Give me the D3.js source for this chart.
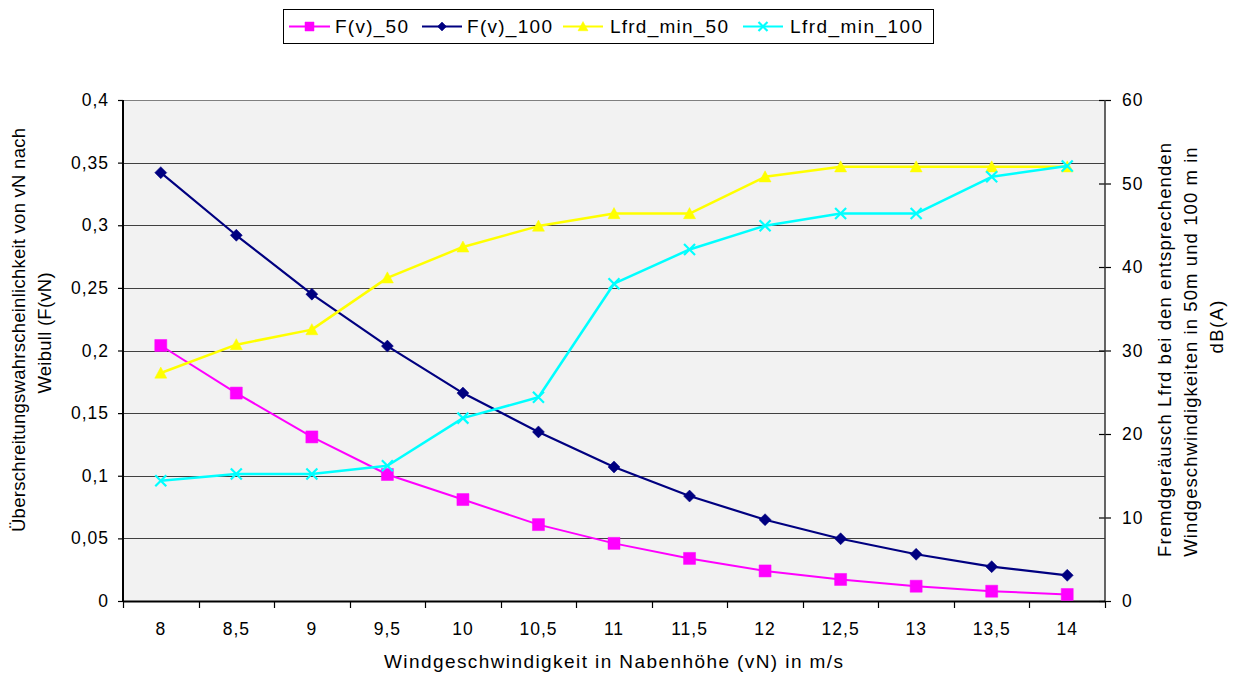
<!DOCTYPE html>
<html>
<head>
<meta charset="utf-8">
<script src="https://cdn.jsdelivr.net/npm/d3@7"></script>
<style>
  html, body { margin: 0; padding: 0; background: #fff; }
  svg { display: block; font-family: "Liberation Sans", Arial, sans-serif; }
</style>
</head>
<body>
<svg id="chart" width="1240" height="675"></svg>
<script>
// Wind speed at hub height (m/s)
const categories = ["8", "8,5", "9", "9,5", "10", "10,5", "11", "11,5", "12", "12,5", "13", "13,5", "14"];

// Weibull exceedance probability (left axis)
const fv50  = [0.204, 0.166, 0.131, 0.101, 0.081, 0.061, 0.046, 0.034, 0.024, 0.0172, 0.0118, 0.0078, 0.0052];
const fv100 = [0.342, 0.292, 0.245, 0.2035, 0.166, 0.135, 0.107, 0.0838, 0.0649, 0.0497, 0.0373, 0.0274, 0.0205];

// Background noise Lfrd in dB(A) (right axis)
const lfrd50  = [27.3, 30.7, 32.5, 38.7, 42.4, 44.9, 46.4, 46.4, 50.8, 52, 52, 52, 52];
const lfrd100 = [14.4, 15.2, 15.2, 16.2, 21.9, 24.4, 38, 42.1, 44.95, 46.4, 46.4, 50.8, 52.1];

const leftTicks  = [0, 0.05, 0.1, 0.15, 0.2, 0.25, 0.3, 0.35, 0.4];
const rightTicks = [0, 10, 20, 30, 40, 50, 60];

const seriesNames = ["F(v)_50", "F(v)_100", "Lfrd_min_50", "Lfrd_min_100"];

const svg = d3.select("#chart");
const M = { left: 123, right: 1105, top: 100, bottom: 601 };
const TICK_FONT = 17.5, TICK_SPACING = "1px";

const x = d3.scaleBand().domain(categories).range([M.left, M.right]).paddingInner(0).paddingOuter(0);
const yL = d3.scaleLinear().domain([0, 0.4]).range([M.bottom, M.top]);
const yR = d3.scaleLinear().domain([0, 60]).range([M.bottom, M.top]);
const cx = c => x(c) + x.bandwidth() / 2;

const deFmt = d3.formatLocale({ decimal: ",", thousands: ".", grouping: [3], currency: ["", " €"] }).format("~g");

// custom marker shapes
const xMark = {
  draw(ctx, size) {
    const r = Math.sqrt(size) / 2;
    ctx.moveTo(-r, -r); ctx.lineTo(r, r);
    ctx.moveTo(-r, r); ctx.lineTo(r, -r);
  }
};
const diamondMark = {
  draw(ctx, size) {
    const r = Math.sqrt(size) / 2;
    ctx.moveTo(0, -r); ctx.lineTo(r, 0); ctx.lineTo(0, r); ctx.lineTo(-r, 0); ctx.closePath();
  }
};
const triMark = {
  draw(ctx, size) {
    const r = Math.sqrt(size) / 2;
    ctx.moveTo(0, -r); ctx.lineTo(r, r * 0.85); ctx.lineTo(-r, r * 0.85); ctx.closePath();
  }
};

const series = [
  { name: seriesNames[0], values: fv50,    y: yL, color: "#FF00FF", width: 2,   shape: d3.symbolSquare, size: 12 * 12, legendSize: 9 * 9,   stroke: false },
  { name: seriesNames[1], values: fv100,   y: yL, color: "#000080", width: 2.2, shape: diamondMark,     size: 12 * 12, legendSize: 9 * 9,   stroke: false },
  { name: seriesNames[2], values: lfrd50,  y: yR, color: "#FFFF00", width: 2.5, shape: triMark,         size: 12 * 12, legendSize: 10 * 10, stroke: false },
  { name: seriesNames[3], values: lfrd100, y: yR, color: "#00FFFF", width: 2.5, shape: xMark,           size: 11 * 11, legendSize: 9 * 9,   stroke: true }
];

// plot background
svg.append("rect")
  .attr("x", M.left).attr("y", M.top)
  .attr("width", M.right - M.left).attr("height", M.bottom - M.top)
  .attr("fill", "#F2F2F2");

// horizontal gridlines at the left axis ticks
svg.append("g").selectAll("line")
  .data(leftTicks.filter(d => d > 0))
  .join("line")
  .attr("x1", M.left).attr("x2", M.right)
  .attr("y1", d => Math.round(yL(d)) + 0.5).attr("y2", d => Math.round(yL(d)) + 0.5)
  .attr("stroke", d => d === 0.4 ? "#808080" : "#404040")
  .attr("stroke-width", 1);

const styleTickText = sel => sel.attr("font-size", TICK_FONT).attr("fill", "#000")
  .attr("letter-spacing", TICK_SPACING).attr("font-family", "Liberation Sans, Arial, sans-serif");

// left axis
const gL = svg.append("g").attr("transform", `translate(${M.left},0)`)
  .call(d3.axisLeft(yL).tickValues(leftTicks).tickFormat(deFmt).tickSize(5).tickPadding(9));
gL.select(".domain").remove();
gL.selectAll(".tick line").attr("stroke", "#000").attr("stroke-width", 1.2);
gL.selectAll(".tick text").call(styleTickText);
gL.append("line").attr("x1", 0).attr("x2", 0).attr("y1", M.top).attr("y2", M.bottom + 1)
  .attr("stroke", "#000").attr("stroke-width", 2);

// right axis (ticks cross the axis line)
const gR = svg.append("g").attr("transform", `translate(${M.right},0)`)
  .call(d3.axisRight(yR).tickValues(rightTicks).tickFormat(deFmt).tickSize(6).tickPadding(11));
gR.select(".domain").remove();
gR.selectAll(".tick line").attr("x1", -6).attr("stroke", "#000").attr("stroke-width", 1.2);
gR.selectAll(".tick text").call(styleTickText);
gR.append("line").attr("x1", 0).attr("x2", 0).attr("y1", M.top).attr("y2", M.bottom)
  .attr("stroke", "#333").attr("stroke-width", 1.5);

// bottom axis: labels centred on categories, ticks on category boundaries
const gB = svg.append("g").attr("transform", `translate(0,${M.bottom})`)
  .call(d3.axisBottom(x).tickSize(0).tickPadding(22));
gB.select(".domain").remove();
gB.selectAll(".tick text").call(styleTickText);
const boundaries = categories.map(c => x(c)).concat([x.range()[1]]);
gB.append("g").selectAll("line").data(boundaries).join("line")
  .attr("x1", d => Math.round(d) + 0.5).attr("x2", d => Math.round(d) + 0.5)
  .attr("y1", 0).attr("y2", 7)
  .attr("stroke", "#000").attr("stroke-width", 1.2);
gB.append("line").attr("x1", M.left).attr("x2", M.right).attr("y1", 0.5).attr("y2", 0.5)
  .attr("stroke", "#000").attr("stroke-width", 2);

// series lines and markers
const lineGen = (s) => d3.line().x((d, i) => cx(categories[i])).y(d => s.y(d));
const markerFor = (g, s, size) => {
  const p = g.append("path").attr("d", d3.symbol().type(s.shape).size(size)());
  if (s.stroke) p.attr("fill", "none").attr("stroke", s.color).attr("stroke-width", 2.2);
  else p.attr("fill", s.color).attr("stroke", s.color).attr("stroke-width", 0.5);
  return p;
};

series.forEach(s => {
  const g = svg.append("g");
  g.append("path").datum(s.values)
    .attr("d", lineGen(s))
    .attr("fill", "none").attr("stroke", s.color).attr("stroke-width", s.width)
    .attr("stroke-linejoin", "round");
  s.values.forEach((v, i) => {
    const mg = g.append("g").attr("transform", `translate(${cx(categories[i])},${s.y(v)})`);
    markerFor(mg, s, s.size);
  });
});

// legend
const legend = svg.append("g");
legend.append("rect").attr("x", 283.5).attr("y", 9.5).attr("width", 650).attr("height", 34)
  .attr("fill", "#fff").attr("stroke", "#000").attr("stroke-width", 1);
const legendLayout = [
  { x0: 289, x1: 330, tx: 335, tw: 73 },
  { x0: 422, x1: 462, tx: 467, tw: 85 },
  { x0: 563, x1: 603, tx: 610, tw: 118 },
  { x0: 743, x1: 783, tx: 790, tw: 132 }
];
series.forEach((s, i) => {
  const L = legendLayout[i];
  const g = legend.append("g");
  g.append("line").attr("x1", L.x0).attr("x2", L.x1).attr("y1", 26.5).attr("y2", 26.5)
    .attr("stroke", s.color).attr("stroke-width", 2);
  const mg = g.append("g").attr("transform", `translate(${(L.x0 + L.x1) / 2},26.5)`);
  markerFor(mg, s, s.legendSize);
  g.append("text").attr("x", L.tx).attr("y", 33)
    .attr("font-size", 19).attr("fill", "#000")
    .attr("textLength", L.tw).attr("lengthAdjust", "spacing")
    .text(s.name);
});

// axis titles
svg.append("text").attr("x", 613.5).attr("y", 668).attr("text-anchor", "middle")
  .attr("font-size", 19).attr("fill", "#000")
  .attr("textLength", 459).attr("lengthAdjust", "spacing")
  .text("Windgeschwindigkeit in Nabenhöhe (vN) in m/s");

function rotatedTitle(lines, cxs, cy, firstLen) {
  const g = svg.append("g");
  const texts = lines.map((t, i) => g.append("text")
    .attr("transform", `translate(${cxs[i]},${cy[i]}) rotate(-90)`)
    .attr("text-anchor", "middle").attr("dy", "0.35em")
    .attr("font-size", 18.5).attr("fill", "#000").text(t));
  const k = firstLen / texts[0].node().getComputedTextLength();
  texts.forEach(t => {
    const w = t.node().getComputedTextLength();
    t.attr("textLength", w * k).attr("lengthAdjust", "spacing");
  });
}
rotatedTitle(["Überschreitungswahrscheinlichkeit von vN nach", "Weibull (F(vN)"], [19, 45], [330, 333], 404);
rotatedTitle(["Fremdgeräusch Lfrd bei den entsprechenden", "Windgeschwindigkeiten in 50m und 100 m in", "dB(A)"],
  [1165, 1191, 1217], [350, 352, 327], 414);
</script>
</body>
</html>
